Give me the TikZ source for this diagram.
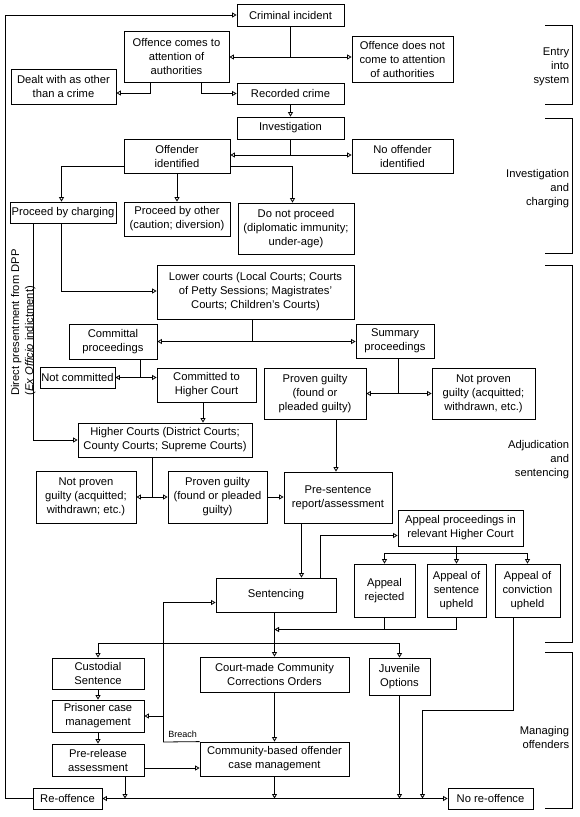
\documentclass[tikz,border=0pt]{standalone}
\usepackage{fontspec}
\setmainfont{Liberation Sans}
\usetikzlibrary{arrows.meta}
\newcommand\mainfs{\fontsize{11.2}{14}\selectfont}
\begin{document}
\begin{tikzpicture}[x=1pt,y=-1pt,
  line width=0.8pt,
  box/.style={draw, line width=0.8pt, inner sep=1pt, align=center, font=\mainfs},
  lbl/.style={inner sep=0pt, align=right, font=\mainfs},
  arr/.style={-{Triangle[open,length=4.5pt,width=5pt]}},
  arrs/.style={{Triangle[open,length=4.5pt,width=5pt]}-{Triangle[open,length=4.5pt,width=5pt]}}]
\useasboundingbox (0,0) rectangle (580,817);
% ---------- boxes ----------
\node[box, minimum width=107pt, minimum height=22pt] (crim) at (290.5,15) {Criminal incident};
\node[box, minimum width=105pt, minimum height=51pt] (attn) at (176.5,56.5) {Offence comes to\\attention of\\authorities};
\node[box, minimum width=101pt, minimum height=46pt] (noattn) at (402.5,59) {Offence does not\\come to attention\\of authorities};
\node[box, minimum width=105pt, minimum height=35pt] (dealt) at (63.5,86.5) {Dealt with as other\\than a crime};
\node[box, minimum width=107pt, minimum height=21pt] (rec) at (290.5,93.5) {Recorded crime};
\node[box, minimum width=107pt, minimum height=22pt] (inv) at (290.5,128) {Investigation};
\node[box, minimum width=106pt, minimum height=34pt] (offid) at (177,156) {Offender\\identified};
\node[box, minimum width=101pt, minimum height=34pt] (nooff) at (402.5,156) {No offender\\identified};
\node[box, minimum width=106pt, minimum height=21pt] (charge) at (63,212.5) {Proceed by charging};
\node[box, minimum width=106pt, minimum height=34pt] (other) at (177,219) {Proceed by other\\(caution; diversion)};
\node[box, minimum width=116pt, minimum height=51pt] (notproc) at (296,228.5) {Do not proceed\\(diplomatic immunity;\\under-age)};
\node[box, minimum width=197pt, minimum height=54pt] (lower) at (255.5,292) {Lower courts (Local Courts; Courts\\of Petty Sessions; Magistrates’\\Courts; Children’s Courts)};
\node[box, minimum width=88pt, minimum height=35pt] (committal) at (113,341.5) {Committal\\proceedings};
\node[box, minimum width=78pt, minimum height=34pt] (summary) at (395,341) {Summary\\proceedings};
\node[box, minimum width=75pt, minimum height=21pt] (notcomm) at (77.5,377.5) {Not committed};
\node[box, minimum width=99pt, minimum height=34pt] (commhc) at (206.5,385) {Committed to\\Higher Court};
\node[box, minimum width=102pt, minimum height=51pt] (pg1) at (315,393.5) {Proven guilty\\(found or\\pleaded guilty)};
\node[box, minimum width=103pt, minimum height=51pt] (npg1) at (483.5,393.5) {Not proven\\guilty (acquitted;\\withdrawn, etc.)};
\node[box, minimum width=174pt, minimum height=34pt] (higher) at (165,440) {Higher Courts (District Courts;\\County Courts; Supreme Courts)};
\node[box, minimum width=100pt, minimum height=52pt] (npg2) at (86,497) {Not proven\\guilty (acquitted;\\withdrawn; etc.)};
\node[box, minimum width=99pt, minimum height=52pt] (pg2) at (217.5,497) {Proven guilty\\(found or pleaded\\guilty)};
\node[box, minimum width=108pt, minimum height=51pt] (present) at (338,497.5) {Pre-sentence\\report/assessment};
\node[box, minimum width=125pt, minimum height=36pt] (appeal) at (460.5,528) {Appeal proceedings in\\relevant Higher Court};
\node[box, minimum width=120pt, minimum height=34pt] (sent) at (276,595) {Sentencing};
\node[box, minimum width=61pt, minimum height=53pt] (rej) at (384.5,590.5) {Appeal\\rejected};
\node[box, minimum width=59pt, minimum height=53pt] (sentup) at (456.5,590.5) {Appeal of\\sentence\\upheld};
\node[box, minimum width=65pt, minimum height=53pt] (convup) at (527.5,590.5) {Appeal of\\conviction\\upheld};
\node[box, minimum width=92pt, minimum height=31pt] (cust) at (98,673.5) {Custodial\\Sentence};
\node[box, minimum width=92pt, minimum height=32pt] (pris) at (98,716) {Prisoner case\\management};
\node[box, minimum width=92pt, minimum height=32pt] (prerel) at (98,760) {Pre-release\\assessment};
\node[box, minimum width=149pt, minimum height=35pt] (ccco) at (274.5,674.5) {Court-made Community\\Corrections Orders};
\node[box, minimum width=61pt, minimum height=37pt] (juv) at (399.5,676.5) {Juvenile\\Options};
\node[box, minimum width=149pt, minimum height=34pt] (cbo) at (274.5,759) {Community-based offender\\case management};
\node[box, minimum width=69pt, minimum height=21pt] (reoff) at (67.5,798.5) {Re-offence};
\node[box, minimum width=85pt, minimum height=21pt] (noreoff) at (490.5,798.5) {No re-offence};
% ---------- stage brackets ----------
\draw (545,25) -- (572.5,25) -- (572.5,104) -- (545,104);
\draw (545,118) -- (572.5,118) -- (572.5,253) -- (545,253);
\draw (545,265) -- (572.5,265) -- (572.5,642) -- (545,642);
\draw (545,652) -- (572.5,652) -- (572.5,808) -- (545,808);
\node[lbl, anchor=east] (s1) at (569.5,67) {Entry\\into\\system};
\node[lbl, anchor=east] (s2) at (569.5,189) {Investigation\\and\\charging};
\node[lbl, anchor=east] (s3) at (569.5,459.5) {Adjudication\\and\\sentencing};
\node[lbl, anchor=east] (s4) at (569.5,737) {Managing\\offenders};
% ---------- side labels ----------
\node[inner sep=0pt, align=left, rotate=90, anchor=west, font=\mainfs, text depth=0pt] (dpp) at (22,396) {Direct presentment from DPP\\(\textit{Ex Officio} indictment)};
\node[inner sep=0pt, anchor=west, font=\fontsize{9}{10}\selectfont] (breach) at (168,734.5) {Breach};
% ---------- connectors ----------
\draw[arr] (reoff.west) -- ++(-27,0) |- (crim.west);
\coordinate (j1) at (290.5,57);
\draw (crim.south) -- (j1);
\draw[arr] (j1) -- (attn.east |- j1);
\draw[arr] (j1) -- (noattn.west |- j1);
\coordinate (j2) at (150.5,93);
\draw[arr] (attn.south -| j2) -- (j2) -- (dealt.east |- j2);
\coordinate (j3) at (201.5,93.5);
\draw[arr] (attn.south -| j3) -- (j3) -- (rec.west);
\draw[arr] (rec.south) -- (inv.north);
\coordinate (j4) at (290.5,155);
\draw (inv.south) -- (j4);
\draw[arr] (j4) -- (offid.east |- j4);
\draw[arr] (j4) -- (nooff.west |- j4);
\coordinate (j5) at (61.5,166);
\draw[arr] (offid.west |- j5) -- (j5) -- (charge.north -| j5);
\draw[arr] (offid.south) -- (other.north);
\coordinate (j7) at (292.5,166);
\draw[arr] (offid.east |- j7) -- (j7) -- (notproc.north -| j7);
\coordinate (j8) at (61.5,291);
\draw[arr] (charge.south -| j8) -- (j8) -- (lower.west |- j8);
\coordinate (j9) at (33.5,440);
\draw[arr] (charge.south -| j9) -- (j9) -- (higher.west);
\coordinate (j10) at (252,341.5);
\draw (lower.south -| j10) -- (j10);
\draw[arr] (j10) -- (committal.east |- j10);
\draw[arr] (j10) -- (summary.west |- j10);
\coordinate (j11) at (140.5,377.5);
\draw (committal.south -| j11) -- (j11);
\draw[arr] (j11) -- (notcomm.east);
\draw[arr] (j11) -- (commhc.west |- j11);
\coordinate (j12) at (203,410);
\draw[arr] (commhc.south -| j12) -- (higher.north -| j12);
\coordinate (j13) at (398.5,393.5);
\draw (summary.south -| j13) -- (j13);
\draw[arr] (j13) -- (pg1.east);
\draw[arr] (j13) -- (npg1.west);
\coordinate (j14) at (336,450);
\draw[arr] (pg1.south -| j14) -- (present.north -| j14);
\coordinate (j15) at (152,497);
\draw (higher.south -| j15) -- (j15);
\draw[arr] (j15) -- (npg2.east |- j15);
\draw[arr] (j15) -- (pg2.west |- j15);
\draw[arr] (pg2.east) -- (present.west |- pg2.east);
\coordinate (j16) at (301.5,550);
\draw[arr] (present.south -| j16) -- (sent.north -| j16);
\coordinate (j17) at (320.5,535.5);
\draw[arr] (sent.north -| j17) -- (j17) -- (appeal.west |- j17);
\coordinate (j18) at (456.5,553);
\draw (appeal.south -| j18) -- (j18);
\draw[arr] (j18) -| (rej.north);
\draw[arr] (j18) -- (sentup.north);
\draw[arr] (j18) -| (convup.north);
\coordinate (j19) at (274.5,629.5);
\draw (rej.south) -- (rej.south |- j19);
\draw[arr] (sentup.south) |- (j19);
\draw[arr] (sent.south -| ccco.north) -- (ccco.north);
\coordinate (j22) at (274.5,643);
\draw[arr] (j22) -| (cust.north);
\draw[arr] (j22) -| (juv.north);
\draw[arr] (cust.south) -- (pris.north);
\draw[arr] (pris.south) -- (prerel.north);
\coordinate (b1) at (163.5,742);
\coordinate (b2) at (163.5,602.5);
\draw[arr] (cbo.north west) -- (b1) -- (b2) -- (sent.west |- b2);
\draw[arr] (b1 |- pris.east) -- (pris.east);
\draw[arr] (ccco.south) -- (cbo.north);
\coordinate (j23) at (170,768);
\draw[arr] (prerel.east |- j23) -- (cbo.west |- j23);
\draw[arrs] (reoff.east) -- (noreoff.west);
\coordinate (j24) at (125,798.5);
\draw[arr] (prerel.south -| j24) -- (j24);
\draw[arr] (cbo.south) -- (cbo.south |- reoff.east);
\draw[arr] (juv.south) -- (juv.south |- reoff.east);
\coordinate (c1) at (513.5,710);
\coordinate (c2) at (422.5,710);
\draw[arr] (convup.south -| c1) -- (c1) -- (c2) -- (c2 |- reoff.east);
\end{tikzpicture}
\end{document}
